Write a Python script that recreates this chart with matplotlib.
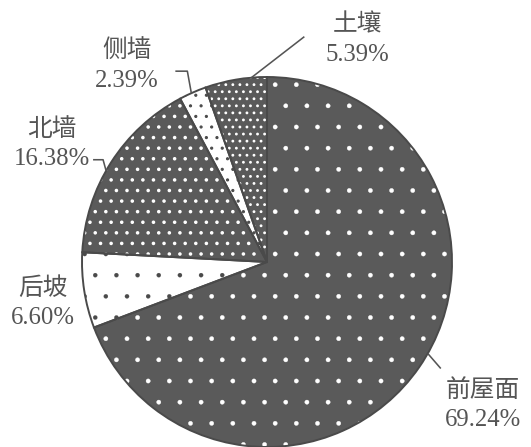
import numpy as np
import matplotlib
matplotlib.use("Agg")
import matplotlib.pyplot as plt

# data (clockwise from 12 o'clock)
labels = ["前屋面", "后坡", "北墙", "侧墙", "土壤"]
shares = [69.24, 6.60, 16.38, 2.39, 5.39]

# styling per slice
face_cols = ["#5a5a5a", "white", "#5a5a5a", "white", "#5a5a5a"]
dot_cols = ["white", "#4a4a4a", "white", "#4a4a4a", "white"]
hatches = [".", ".", "..", "..", "..."]
hatch_lw = [0.2, 0.1, 0.8, 0.6, 0.8]

DPI = 127
W, H = 531, 447
CX, CY, R = 267, 185, 185
TXT = "#555555"
FONT = ["Liberation Serif", "Noto Sans CJK SC", "DejaVu Sans"]

# label layout: text centre, where the leader starts on the wedge (0..1 of its arc),
# and the leader path as offsets from that start point
label_pos = [(483, 42), (43, 144), (52, 303), (127, 381), (357, 407)]
leader_frac = [0.52, None, 0.55, 0.55, 0.25]
leader_path = [
    [(0, 0), (13, -15)],
    None,
    [(0, 0), (-3, 11), (-13, 11)],
    [(0, 0), (-4, 22), (-16, 22)],
    [(0, 0), (53, 41)],
]

fig = plt.figure(figsize=(W / DPI, H / DPI), dpi=DPI)
ax = fig.add_axes([0, 0, 1, 1])

# hatched fill layer (edgecolor drives hatch colour)
wedges, _ = ax.pie(shares, startangle=90, counterclock=False, center=(CX, CY),
                   radius=R, colors=face_cols, frame=True)
for w, ec, h, lw in zip(wedges, dot_cols, hatches, hatch_lw):
    w.set_edgecolor(ec)
    w.set_linewidth(0)
    w.set_hatch(h)
    if hasattr(w, "set_hatch_linewidth"):
        w.set_hatch_linewidth(lw)

# outline layer
outline, _ = ax.pie(shares, startangle=90, counterclock=False, center=(CX, CY),
                    radius=R, colors=["none"] * len(shares), frame=True,
                    wedgeprops=dict(edgecolor="#4a4a4a", linewidth=1.1))

ax.set_xlim(0, W)
ax.set_ylim(0, H)
ax.set_aspect("equal")
ax.axis("off")

for w, lab, v, pos, frac, path in zip(wedges, labels, shares, label_pos,
                                      leader_frac, leader_path):
    ax.text(pos[0], pos[1], f"{lab}\n{v:.2f}%", ha="center", va="center",
            fontsize=14, color=TXT, family=FONT, linespacing=1.45)
    if path is None:
        continue
    ang = np.deg2rad(w.theta1 + frac * (w.theta2 - w.theta1))
    sx, sy = CX + R * np.cos(ang), CY + R * np.sin(ang)
    xs = [sx + dx for dx, dy in path]
    ys = [sy + dy for dx, dy in path]
    ax.plot(xs, ys, color="#555555", lw=0.9, solid_capstyle="butt")

fig.savefig("out.png", dpi=DPI)
